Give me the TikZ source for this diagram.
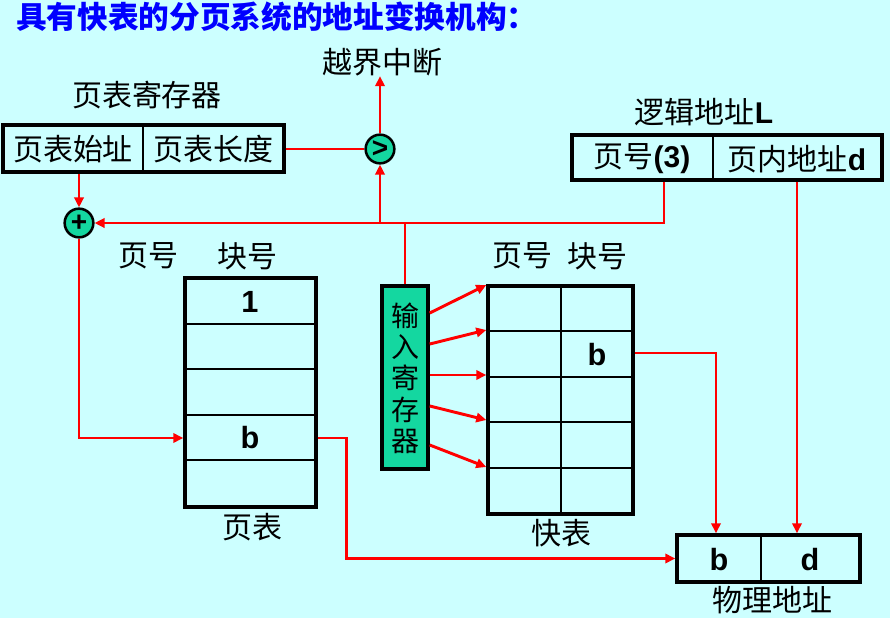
\documentclass[tikz,border=0pt]{standalone}
\usepackage{fontspec}
\setmainfont{Noto Sans CJK SC}
\newfontfamily\lat{Liberation Sans}
\usetikzlibrary{arrows.meta}
\definecolor{bg}{RGB}{204,255,255}
\definecolor{gr}{RGB}{20,215,160}
\definecolor{ttl}{RGB}{0,0,255}
\definecolor{rl}{RGB}{255,0,0}
\begin{document}
\begin{tikzpicture}[x=0.75pt,y=-0.75pt,
  cn/.style={font=\fontsize{22.5}{25}\selectfont, inner sep=0pt},
  lt/.style={font=\lat\bfseries\fontsize{23}{25}\selectfont, inner sep=0pt},
  bigbox/.style={draw, line width=2.6pt, inner sep=0pt},
  thin/.style={line width=0.8pt},
  rline/.style={draw=rl, line width=2.2pt},
  rarrow/.style={rline, -{Triangle[length=7.5pt,width=7pt]}},
  opc/.style={circle, draw, fill=gr, line width=1.9pt, inner sep=0pt, minimum size=21.5pt,
              font=\lat\bfseries\fontsize{21}{21}\selectfont}
]
\fill[bg] (0,0) rectangle (890,618);
\useasboundingbox (0,0) rectangle (890,618);

% title
\node[anchor=west, text=ttl, font=\bfseries\fontsize{23}{26}\selectfont, inner sep=0pt] (title) at (16,17) {具有快表的分页系统的地址变换机构：};

% page table register
\node[cn] (ptrlbl) at (147,95) {页表寄存器};
\node[bigbox, minimum width=281*0.75pt, minimum height=47*0.75pt] (ptr) at (143.5,148.5) {};
\draw[thin] (143,125) -- (143,172);
\node[cn] (ptA) at (73,149) {页表始址};
\node[cn] (ptB) at (213,149) {页表长度};

% comparator and adder
\node[opc] (cmp) at (380,149) {>};
\node[cn] (over) at (382,62) {越界中断};
\node[opc] (add) at (79,223) {+};

% logical address
\node[cn] (lalbl) at (704,112) {逻辑地址{\lat\bfseries L}};
\node[bigbox, minimum width=310*0.75pt, minimum height=45*0.75pt] (la) at (727,157.5) {};
\draw[thin] (713,135) -- (713,180);
\node[cn] (laA) at (642,159) {页号{\lat\bfseries (3)}};
\node[cn] (laB) at (797,159) {页内地址{\lat\bfseries d}};

% page table
\node[cn] (h1) at (148,256) {页号};
\node[cn] (h2) at (247,256) {块号};
\node[bigbox, minimum width=131*0.75pt, minimum height=229*0.75pt] (pt) at (250.5,392.5) {};
\foreach \yy in {324,369,415,460} \draw[thin] (185,\yy) -- (316,\yy);
\node[lt] (pt1) at (250,302) {1};
\node[lt] (ptb) at (250,438) {b};
\node[cn] (ptlbl) at (252,527) {页表};

% input register
\node[bigbox, fill=gr, minimum width=46*0.75pt, minimum height=183*0.75pt] (ir) at (405,377.5) {};
\node[font=\fontsize{21}{23.5}\selectfont, align=center, inner sep=0pt] (irt) at (405,378) {输\\入\\寄\\存\\器};

% fast table
\node[cn] (h3) at (522,256) {页号};
\node[cn] (h4) at (597,256) {块号};
\node[bigbox, minimum width=145*0.75pt, minimum height=228*0.75pt] (ft) at (560.5,400) {};
\draw[thin] (561,286) -- (561,514);
\foreach \yy in {331,377,422,468} \draw[thin] (488,\yy) -- (633,\yy);
\node[lt] (ftb) at (597,355) {b};
\node[cn] (ftlbl) at (561,533) {快表};

% physical address
\node[bigbox, minimum width=183*0.75pt, minimum height=47*0.75pt] (pa) at (768.5,558.5) {};
\draw[thin] (761,535) -- (761,582);
\node[lt] (pab) at (719,560) {b};
\node[lt] (pad) at (810,560) {d};
\node[cn] (palbl) at (772,600) {物理地址};

% helper coordinates
\coordinate (j) at (664,223);
\coordinate (dx) at (797,0);
\coordinate (bx) at (716,0);

% connectors
\draw[rline] (ptr.east |- cmp) -- (cmp.west);
\draw[rarrow] (cmp.north) -- (cmp |- over.south);
\draw[rarrow] (add |- ptr.south) -- (add.north);
\draw[rarrow] (la.south -| j) |- (add.east);
\draw[rarrow] (cmp |- add.east) -- (cmp.south);
\draw[rline] (ir.north) -- (ir.north |- add.east);
\draw[rarrow] (la.south -| dx) -- (pa.north -| dx);
\draw[rarrow] (add.south) |- (pt.west |- ptb);
\draw[rarrow] (pt.east |- ptb) -- ++(29,0) |- (pa.west);
\draw[rarrow] (ft.east |- 0,353) -| (pa.north -| bx);
\draw[rarrow] (ir.east |- 0,313) -- (ft.west |- 0,285);
\draw[rarrow] (ir.east |- 0,344) -- (ft.west |- 0,330);
\draw[rarrow] (ir.east |- 0,375) -- (ft.west |- 0,375);
\draw[rarrow] (ir.east |- 0,406) -- (ft.west |- 0,420);
\draw[rarrow] (ir.east |- 0,445) -- (ft.west |- 0,467);
\end{tikzpicture}
\end{document}
